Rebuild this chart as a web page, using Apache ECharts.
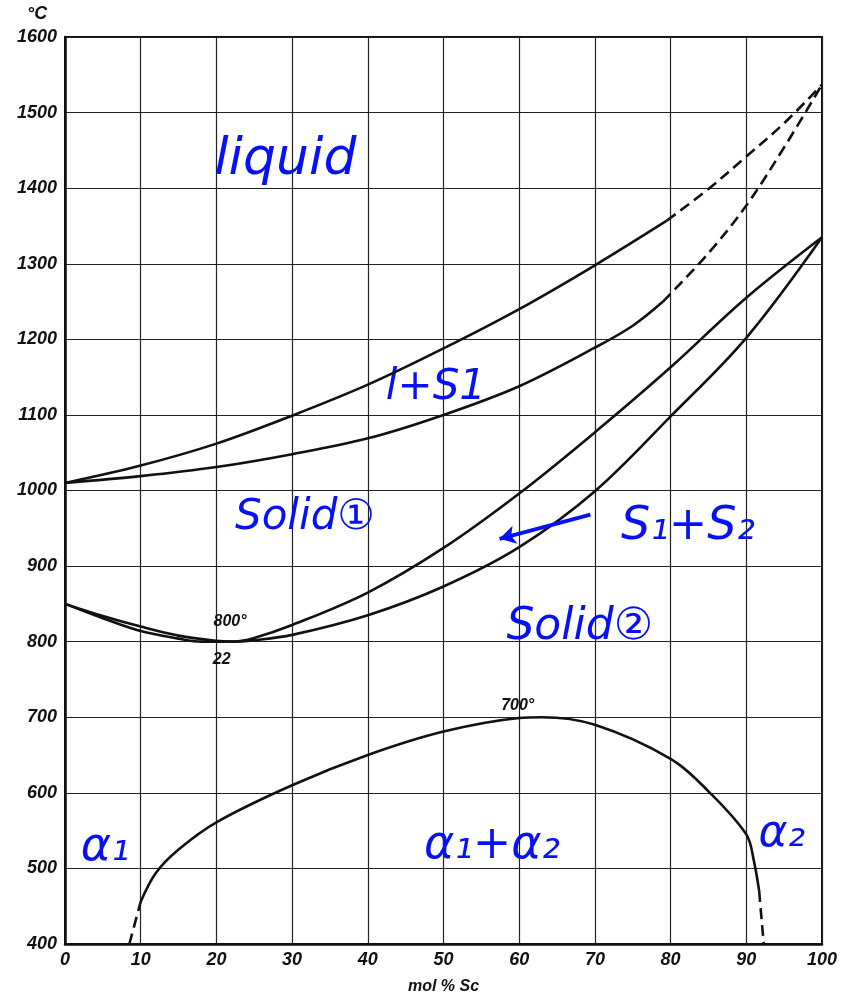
<!DOCTYPE html>
<html>
<head>
<meta charset="utf-8">
<script src="https://cdn.jsdelivr.net/npm/echarts@6/dist/echarts.min.js"></script>
<style>
  html, body { margin: 0; padding: 0; background: #fff; }
  #chart { width: 841px; height: 996px; }
</style>
</head>
<body>
<div id="chart"></div>
<script>
// x = mol % Sc, y = temperature in °C
var xTicks = [0, 10, 20, 30, 40, 50, 60, 70, 80, 90, 100]
var yTicks = [400, 500, 600, 700, 800, 900, 1000, 1100, 1200, 1300, 1400, 1500, 1600]

// liquidus
var liqX = [0, 10, 20, 30, 40, 50, 60, 70, 79.5]
var liqT = [1010, 1033, 1062, 1099, 1140, 1188, 1240, 1298, 1357]
var liqDashX = [79.5, 85, 90, 95, 100]
var liqDashT = [1357, 1399, 1442, 1486, 1537]

// solidus
var solX = [0, 10, 20, 30, 40, 50, 60, 70, 75, 79]
var solT = [1010, 1019, 1031, 1048, 1069, 1100, 1138, 1189, 1218, 1250]
var solDashX = [79, 85, 90, 95, 100]
var solDashT = [1250, 1314, 1377, 1454, 1537]

// solid 1 boundary
var s1X = [0, 5, 10, 15, 20, 22, 25, 30, 40, 50, 60, 70, 80, 90, 100]
var s1T = [850, 834, 820, 808, 801, 800, 805, 822, 865, 924, 996, 1077, 1163, 1255, 1335]

// solid 2 boundary
var s2X = [0, 5, 10, 15, 18, 22, 25, 30, 40, 50, 60, 70, 80, 90, 100]
var s2T = [850, 831, 814, 804, 800, 800, 802, 809, 835, 873, 925, 999, 1098, 1202, 1335]

// alpha solvus
var alphaX = [10, 12, 15, 20, 30, 40, 50, 60, 63, 70, 80, 85, 90, 91, 91.7]
var alphaT = [456, 494, 525, 561, 610, 650, 681, 699, 700, 690, 645, 602, 545, 510, 470]
var alphaDashLX = [8.5, 10]
var alphaDashLT = [400, 456]
var alphaDashRX = [91.7, 92.3]
var alphaDashRT = [470, 400]

// printed notes [x, T, text]
var printedNotes = [[21.8, 826, '800°'], [20.7, 776, '22'], [59.8, 716, '700°']]
// handwritten notes [x, T, text, size]
var handNotes = [
  [29.1, 1437, 'liquid', 52],
  [49.0, 1136, 'l+S1', 42],
  [31.7, 963, 'Solid①', 42],
  [82.3, 952, 'S₁+S₂', 46],
  [68.0, 818, 'Solid②', 44],
  [5.3, 527, 'α₁', 46],
  [56.4, 529, 'α₁+α₂', 46],
  [94.7, 545, 'α₂', 44],
]
var arrowFrom = [69.4, 968]
var arrowTo = [57.4, 936]

function pairs(xs, ys) {
  var out = []
  for (var i = 0; i < xs.length; i++) out.push([xs[i], ys[i]])
  return out
}

var myChart = echarts.init(document.getElementById('chart'))

function curve(xs, ys, dashed) {
  return {
    type: 'line',
    data: pairs(xs, ys),
    smooth: 0.35,
    symbol: 'none',
    silent: true,
    lineStyle: {
      color: '#111',
      width: 2.6,
      type: dashed ? [11, 6] : 'solid',
    },
  }
}

var labelFont = {
  color: '#111',
  fontSize: 18,
  fontStyle: 'italic',
  fontWeight: 'bold',
  fontFamily: 'Liberation Sans, Arial, sans-serif',
}

var series = [
  curve(liqX, liqT, false),
  curve(liqDashX, liqDashT, true),
  curve(solX, solT, false),
  curve(solDashX, solDashT, true),
  curve(s1X, s1T, false),
  curve(s2X, s2T, false),
  curve(alphaX, alphaT, false),
  curve(alphaDashLX, alphaDashLT, true),
  curve(alphaDashRX, alphaDashRT, true),
  {
    // printed temperature / composition notes
    type: 'scatter',
    symbolSize: 0,
    silent: true,
    itemStyle: { opacity: 1 },
    data: printedNotes.map(function (n) { return [n[0], n[1], n[2]] }),
    label: {
      show: true,
      position: 'inside',
      formatter: function (p) { return p.value[2] },
      color: '#111',
      fontSize: 16,
      fontStyle: 'italic',
      fontWeight: 'bold',
      fontFamily: 'Liberation Sans, Arial, sans-serif',
    },
  },
  {
    // handwritten blue notes
    type: 'scatter',
    symbolSize: 0,
    silent: true,
    itemStyle: { opacity: 1 },
    data: handNotes.map(function (n) {
      return {
        value: [n[0], n[1], n[2]],
        label: { fontSize: n[3] },
      }
    }),
    label: {
      show: true,
      position: 'inside',
      formatter: function (p) { return p.value[2] },
      color: '#0612f5',
      fontStyle: 'italic',
      fontFamily: 'DejaVu Sans, sans-serif',
    },
    markLine: {
      silent: true,
      symbol: ['none', 'arrow'],
      symbolSize: [14, 16],
      label: { show: false },
      lineStyle: { color: '#0612f5', width: 4, type: 'solid', opacity: 1 },
      data: [[
        { coord: arrowFrom, lineStyle: { curveness: -0.3 } },
        { coord: arrowTo },
      ]],
    },
  },
]

myChart.setOption({
  animation: false,
  backgroundColor: '#fff',
  grid: {
    left: 65,
    right: 19,
    top: 37,
    bottom: 52,
    outerBoundsMode: 'none',
    containLabel: false,
    show: true,
    borderColor: '#111',
    borderWidth: 2,
  },
  graphic: [
    {
      type: 'text',
      left: 27,
      top: 5,
      style: {
        text: '°C',
        fill: '#111',
        fontSize: 18,
        fontStyle: 'italic',
        fontWeight: 'bold',
        fontFamily: 'Liberation Sans, Arial, sans-serif',
      },
    },
  ],
  xAxis: {
    type: 'value',
    min: 0,
    max: 100,
    interval: 10,
    name: 'mol % Sc',
    nameLocation: 'middle',
    nameGap: 35,
    nameTextStyle: {
      color: '#111',
      fontSize: 16,
      fontStyle: 'italic',
      fontWeight: 'bold',
      fontFamily: 'Liberation Sans, Arial, sans-serif',
    },
    axisLine: { lineStyle: { color: '#111', width: 2.5 } },
    axisTick: { show: false },
    axisLabel: Object.assign({ margin: 7, formatter: function (v) { return xTicks.indexOf(v) >= 0 ? String(v) : '' } }, labelFont),
    splitLine: { show: true, lineStyle: { color: '#222', width: 1.2 } },
  },
  yAxis: {
    type: 'value',
    min: 400,
    max: 1600,
    interval: 100,
    axisLine: { show: true, lineStyle: { color: '#111', width: 2.5 } },
    axisTick: { show: false },
    axisLabel: Object.assign({ margin: 8, formatter: function (v) { return yTicks.indexOf(v) >= 0 ? String(v) : '' } }, labelFont),
    splitLine: { show: true, lineStyle: { color: '#222', width: 1.2 } },
  },
  series: series,
})
</script>
</body>
</html>
